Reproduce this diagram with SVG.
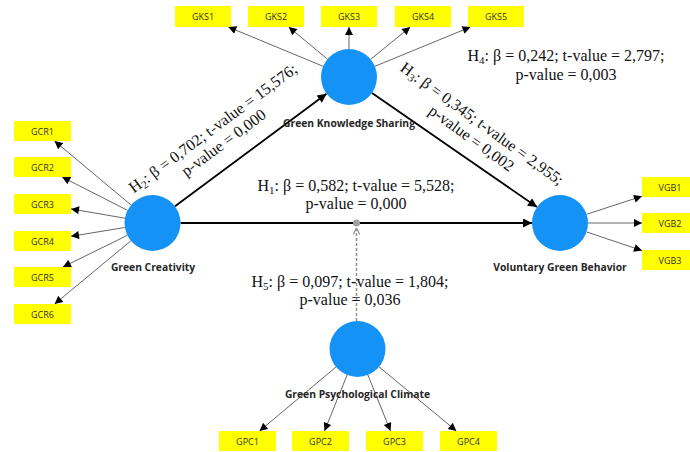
<svg xmlns="http://www.w3.org/2000/svg" width="690" height="452" viewBox="0 0 690 452">
<style>
.lv{fill:#1592F5}
.ind{fill:#FFFF00}
.it{font-family:"Open Sans","Segoe UI",sans-serif;font-size:9px;fill:#333;text-anchor:middle}
.nl{font-family:"Open Sans","Segoe UI",sans-serif;font-size:10.3px;font-weight:bold;fill:#262626;text-anchor:middle}
.ol{stroke:#666;stroke-width:1;fill:none;marker-end:url(#ah)}
.sl{stroke:#000;stroke-width:1.8;fill:none;marker-end:url(#ahb)}
.ft{font-family:"Liberation Serif","Times New Roman",serif;font-size:16px;fill:#111;text-anchor:middle}
.sub{font-size:11px}
</style>
<defs>
<marker id="ah" viewBox="0 0 10 10" refX="10" refY="5" markerWidth="9" markerHeight="8" markerUnits="userSpaceOnUse" orient="auto"><path d="M0,0 L10,5 L0,10 z" fill="#000"/></marker>
<marker id="ahb" viewBox="0 0 10 10" refX="10" refY="5" markerWidth="11" markerHeight="9" markerUnits="userSpaceOnUse" orient="auto"><path d="M0,0 L10,5 L0,10 z" fill="#000"/></marker>
<marker id="chev" viewBox="0 0 10 10" refX="10" refY="5" markerWidth="8" markerHeight="8" markerUnits="userSpaceOnUse" orient="auto"><path d="M2,1 L10,5 L2,9" fill="none" stroke="#8a968a" stroke-width="1.5"/></marker>
</defs>

<g id="connectors">
<line class="ol" x1="323.1" y1="66.3" x2="228.3" y2="27"/>
<line class="ol" x1="327.4" y1="59.1" x2="288.7" y2="27"/>
<line class="ol" x1="349" y1="49" x2="349" y2="27"/>
<line class="ol" x1="370.7" y1="59.3" x2="410.2" y2="27"/>
<line class="ol" x1="374.9" y1="66.3" x2="470.5" y2="27"/>
<line class="ol" x1="131" y1="205" x2="54.5" y2="141"/>
<line class="ol" x1="127.5" y1="210.3" x2="62.1" y2="177"/>
<line class="ol" x1="124.9" y1="218.2" x2="71" y2="208.9"/>
<line class="ol" x1="124.9" y1="227.5" x2="71" y2="236.3"/>
<line class="ol" x1="127.4" y1="235.3" x2="62.9" y2="267"/>
<line class="ol" x1="130.9" y1="240.8" x2="54.6" y2="304"/>
<line class="ol" x1="586.6" y1="214.3" x2="642" y2="196.2"/>
<line class="ol" x1="588" y1="223" x2="642" y2="223"/>
<line class="ol" x1="586.5" y1="231.9" x2="642" y2="250.6"/>
<line class="ol" x1="336" y1="367" x2="259.5" y2="431"/>
<line class="ol" x1="347.1" y1="375" x2="324.5" y2="431"/>
<line class="ol" x1="367.9" y1="375" x2="390.5" y2="431"/>
<line class="ol" x1="379.1" y1="366.9" x2="456.4" y2="431"/>
<line class="sl" x1="175" y1="206.3" x2="326.5" y2="93.7"/>
<line class="sl" x1="180.5" y1="223" x2="532" y2="223"/>
<line class="sl" x1="372" y1="92.9" x2="537" y2="207.1"/>
<line x1="356.5" y1="321" x2="356.5" y2="228" stroke="#8a968a" stroke-width="1.5" stroke-dasharray="3,2" marker-end="url(#chev)"/>
<circle cx="356.5" cy="223" r="3.5" fill="#a0a0a0"/>
</g>

<g id="GKS">
<circle class="lv" cx="349" cy="77" r="28"/>
<text class="nl" x="349" y="127">Green Knowledge Sharing</text>
</g>
<g id="GC">
<circle class="lv" cx="152.5" cy="223" r="28"/>
<text class="nl" x="153" y="271">Green Creativity</text>
</g>
<g id="VGB">
<circle class="lv" cx="560" cy="223" r="28"/>
<text class="nl" x="560" y="271">Voluntary Green Behavior</text>
</g>
<g id="GPC">
<circle class="lv" cx="357.5" cy="349" r="28"/>
<text class="nl" x="357.5" y="398">Green Psychological Climate</text>
</g>

<g id="GKS1"><rect class="ind" x="175" y="6" width="56" height="21"/><text class="it" x="203" y="20">GKS1</text></g>
<g id="GKS2"><rect class="ind" x="248" y="6" width="56" height="21"/><text class="it" x="276" y="20">GKS2</text></g>
<g id="GKS3"><rect class="ind" x="321" y="6" width="56" height="21"/><text class="it" x="349" y="20">GKS3</text></g>
<g id="GKS4"><rect class="ind" x="395" y="6" width="56" height="21"/><text class="it" x="423" y="20">GKS4</text></g>
<g id="GKS5"><rect class="ind" x="468" y="6" width="56" height="21"/><text class="it" x="496" y="20">GKS5</text></g>

<g id="GCR1"><rect class="ind" x="14" y="121" width="57" height="20"/><text class="it" x="42.5" y="134.5">GCR1</text></g>
<g id="GCR2"><rect class="ind" x="14" y="157" width="57" height="20"/><text class="it" x="42.5" y="170.5">GCR2</text></g>
<g id="GCR3"><rect class="ind" x="14" y="194" width="57" height="20"/><text class="it" x="42.5" y="207.5">GCR3</text></g>
<g id="GCR4"><rect class="ind" x="14" y="231" width="57" height="20"/><text class="it" x="42.5" y="244.5">GCR4</text></g>
<g id="GCR5"><rect class="ind" x="14" y="267" width="57" height="20"/><text class="it" x="42.5" y="280.5">GCR5</text></g>
<g id="GCR6"><rect class="ind" x="14" y="304" width="57" height="20"/><text class="it" x="42.5" y="317.5">GCR6</text></g>

<g id="VGB1"><rect class="ind" x="642" y="177" width="56" height="20"/><text class="it" x="670" y="190.5">VGB1</text></g>
<g id="VGB2"><rect class="ind" x="642" y="213" width="56" height="20"/><text class="it" x="670" y="226.5">VGB2</text></g>
<g id="VGB3"><rect class="ind" x="642" y="250" width="56" height="20"/><text class="it" x="670" y="263.5">VGB3</text></g>

<g id="GPC1"><rect class="ind" x="219" y="431" width="57" height="20"/><text class="it" x="247.5" y="444.5">GPC1</text></g>
<g id="GPC2"><rect class="ind" x="292" y="431" width="57" height="20"/><text class="it" x="320.5" y="444.5">GPC2</text></g>
<g id="GPC3"><rect class="ind" x="366" y="431" width="57" height="20"/><text class="it" x="394.5" y="444.5">GPC3</text></g>
<g id="GPC4"><rect class="ind" x="440" y="431" width="57" height="20"/><text class="it" x="468.5" y="444.5">GPC4</text></g>

<g id="labels">
<text class="ft" x="356" y="191">H<tspan class="sub" dy="3">1</tspan><tspan dy="-3">: β = 0,582; t-value = 5,528;</tspan></text>
<text class="ft" x="356" y="209">p-value = 0,000</text>
<text class="ft" x="350" y="287">H<tspan class="sub" dy="3">5</tspan><tspan dy="-3">: β = 0,097; t-value = 1,804;</tspan></text>
<text class="ft" x="350" y="305">p-value = 0,036</text>
<text class="ft" x="566" y="61">H<tspan class="sub" dy="3">4</tspan><tspan dy="-3">: β = 0,242; t-value = 2,797;</tspan></text>
<text class="ft" x="566" y="80">p-value = 0,003</text>
<g transform="translate(216,132.5) rotate(-36.6)">
<text class="ft" x="0" y="0">H<tspan class="sub" dy="3">2</tspan><tspan dy="-3">: β = 0,702; t-value = 15,576;</tspan></text>
<text class="ft" x="0" y="18">p-value = 0,000</text>
</g>
<g transform="translate(479,128) rotate(36)">
<text class="ft" x="0" y="0">H<tspan class="sub" dy="3">3</tspan><tspan dy="-3">: β = 0,345; t-value = 2,955;</tspan></text>
<text class="ft" x="0" y="18">p-value = 0,002</text>
</g>
</g>
</svg>
